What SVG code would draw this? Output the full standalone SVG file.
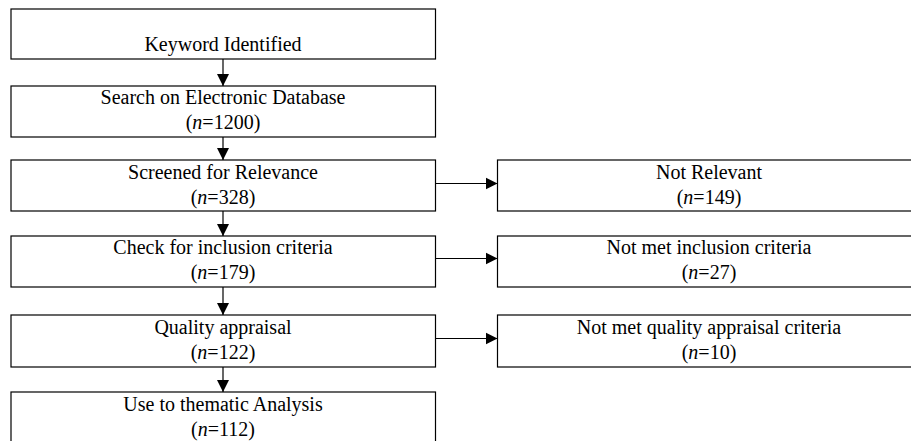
<svg xmlns="http://www.w3.org/2000/svg" width="911" height="441" viewBox="0 0 911 441">
<style>
.box{fill:#fff;stroke:#000;stroke-width:1.2}
text{font-family:"Liberation Serif","Times New Roman",serif;font-size:20px;fill:#000;text-anchor:middle}
.c{stroke:#000;stroke-width:1.2;fill:none}
</style>
<defs>
<marker id="ah" markerWidth="12" markerHeight="14" refX="14" refY="7" viewBox="0 0 14 14" markerUnits="userSpaceOnUse" orient="auto">
<path d="M0,0 L14,7 L0,14 Z" fill="#000"/>
</marker>
</defs>
<rect width="911" height="441" fill="#fff"/>
<g id="connectors">
<line class="c" x1="223" y1="59" x2="223" y2="86" marker-end="url(#ah)"/>
<line class="c" x1="223" y1="137" x2="223" y2="160" marker-end="url(#ah)"/>
<line class="c" x1="223" y1="211" x2="223" y2="236" marker-end="url(#ah)"/>
<line class="c" x1="223" y1="287" x2="223" y2="315" marker-end="url(#ah)"/>
<line class="c" x1="223" y1="367" x2="223" y2="392" marker-end="url(#ah)"/>
<line class="c" x1="435.5" y1="183.5" x2="497.5" y2="183.5" marker-end="url(#ah)"/>
<line class="c" x1="435.5" y1="258.5" x2="497.5" y2="258.5" marker-end="url(#ah)"/>
<line class="c" x1="435.5" y1="338.5" x2="497.5" y2="338.5" marker-end="url(#ah)"/>
</g>
<g id="keyword">
<rect class="box" x="11" y="9" width="424.5" height="50"/>
<text x="223" y="51">Keyword Identified</text>
</g>
<g id="search">
<rect class="box" x="11" y="86" width="424.5" height="51"/>
<text x="223" y="104">Search on Electronic Database</text>
<text x="223" y="129">(<tspan font-style="italic">n</tspan>=1200)</text>
</g>
<g id="screened">
<rect class="box" x="11" y="160" width="424.5" height="51"/>
<text x="223" y="179">Screened for Relevance</text>
<text x="223" y="204">(<tspan font-style="italic">n</tspan>=328)</text>
</g>
<g id="check">
<rect class="box" x="11" y="236" width="424.5" height="51"/>
<text x="223" y="254">Check for inclusion criteria</text>
<text x="223" y="279">(<tspan font-style="italic">n</tspan>=179)</text>
</g>
<g id="quality">
<rect class="box" x="11" y="315" width="424.5" height="52"/>
<text x="223" y="334">Quality appraisal</text>
<text x="223" y="359">(<tspan font-style="italic">n</tspan>=122)</text>
</g>
<g id="use">
<rect class="box" x="11" y="392" width="424.5" height="60"/>
<text x="223" y="411">Use to thematic Analysis</text>
<text x="223" y="436">(<tspan font-style="italic">n</tspan>=112)</text>
</g>
<g id="notrelevant">
<rect class="box" x="497.5" y="160" width="424" height="51"/>
<text x="709" y="179">Not Relevant</text>
<text x="709" y="204">(<tspan font-style="italic">n</tspan>=149)</text>
</g>
<g id="notinclusion">
<rect class="box" x="497.5" y="236" width="424" height="51"/>
<text x="709" y="254">Not met inclusion criteria</text>
<text x="709" y="279">(<tspan font-style="italic">n</tspan>=27)</text>
</g>
<g id="notquality">
<rect class="box" x="497.5" y="315" width="424" height="52"/>
<text x="709" y="334">Not met quality appraisal criteria</text>
<text x="709" y="359">(<tspan font-style="italic">n</tspan>=10)</text>
</g>
</svg>
